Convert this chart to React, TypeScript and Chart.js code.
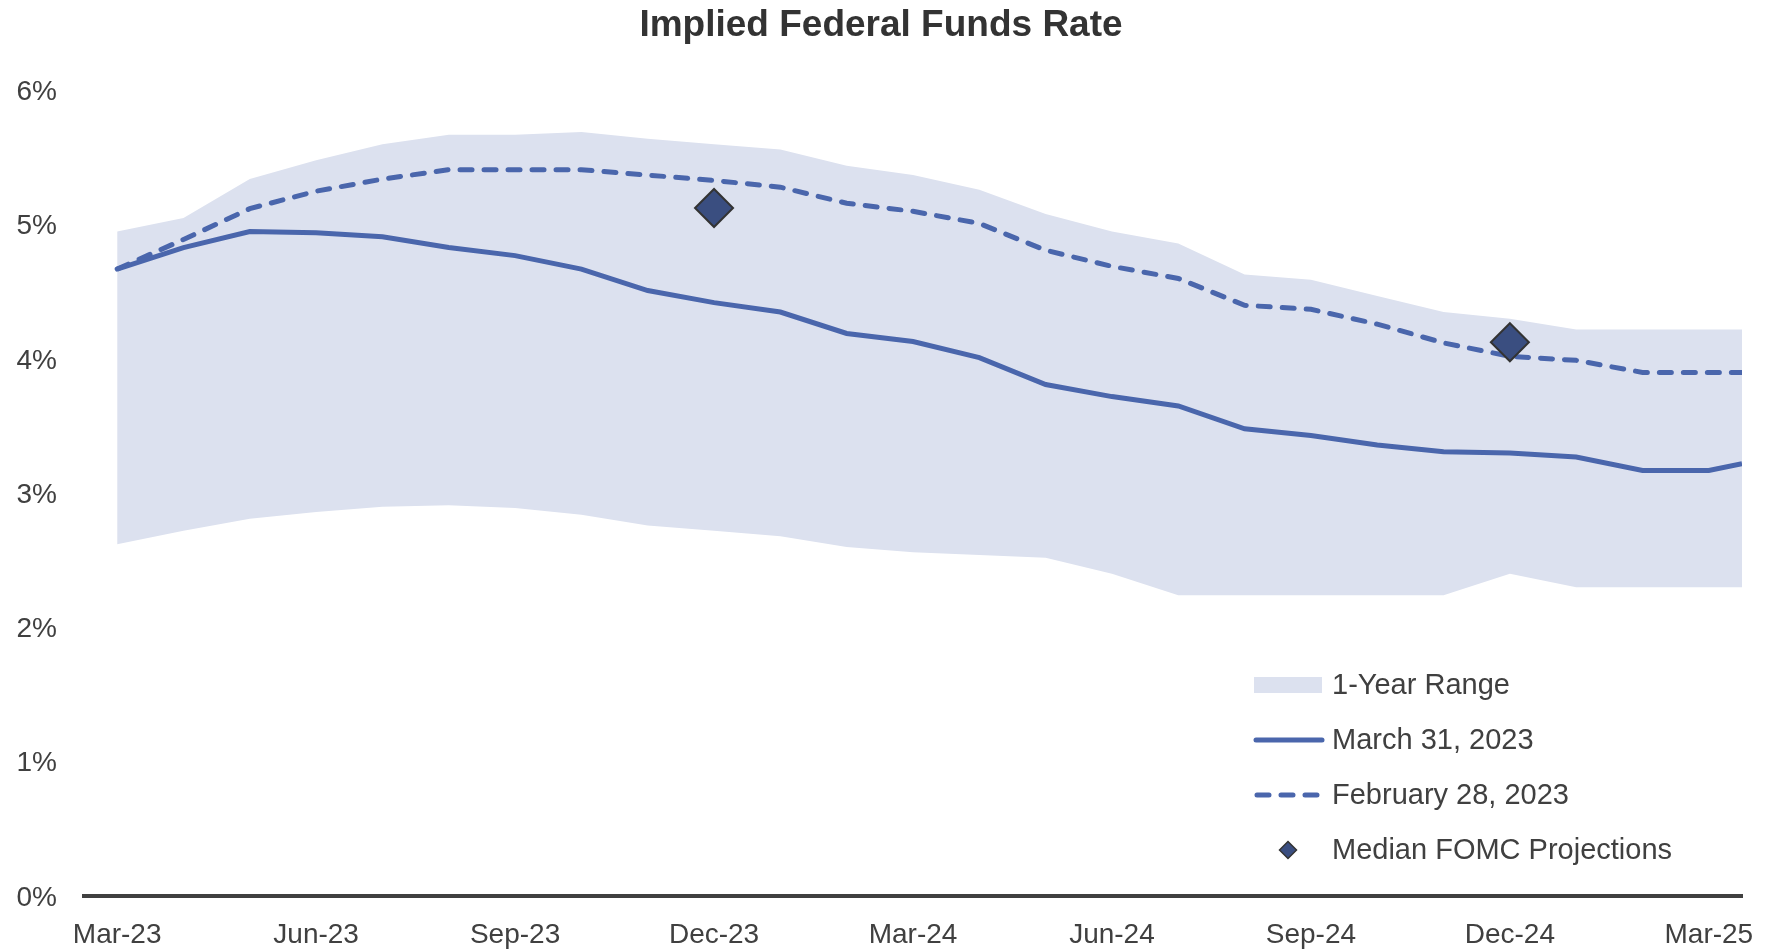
import React, { useEffect, useRef } from "react";
import { Chart, registerables } from "chart.js";

Chart.register(...registerables);

// x positions in months after Mar-23
const monthOffsets = [0, 1, 2, 3, 4, 5, 6, 7, 8, 9, 10, 11, 12, 13, 14, 15, 16, 17, 18, 19, 20, 21, 22, 23, 24, 24.5];
const tickPositions = [0, 3, 6, 9, 12, 15, 18, 21, 24];
const tickLabels = ["Mar-23", "Jun-23", "Sep-23", "Dec-23", "Mar-24", "Jun-24", "Sep-24", "Dec-24", "Mar-25"];
const yTicks = [0, 1, 2, 3, 4, 5, 6];

const march31 = [4.67, 4.83, 4.95, 4.94, 4.91, 4.83, 4.77, 4.67, 4.51, 4.42, 4.35, 4.19, 4.13, 4.01, 3.81, 3.72, 3.65, 3.48, 3.43, 3.36, 3.31, 3.30, 3.27, 3.17, 3.17, 3.22];
const feb28 = [4.67, 4.89, 5.12, 5.25, 5.34, 5.41, 5.41, 5.41, 5.37, 5.33, 5.28, 5.16, 5.10, 5.01, 4.81, 4.69, 4.60, 4.40, 4.37, 4.26, 4.12, 4.02, 3.99, 3.90, 3.90, 3.90];
const rangeHigh = [4.95, 5.05, 5.34, 5.48, 5.60, 5.67, 5.67, 5.69, 5.64, 5.60, 5.56, 5.44, 5.37, 5.26, 5.08, 4.95, 4.86, 4.63, 4.59, 4.47, 4.35, 4.30, 4.22, 4.22, 4.22, 4.22];
const rangeLow = [2.62, 2.72, 2.81, 2.86, 2.90, 2.91, 2.89, 2.84, 2.76, 2.72, 2.68, 2.60, 2.56, 2.54, 2.52, 2.40, 2.24, 2.24, 2.24, 2.24, 2.24, 2.40, 2.30, 2.30, 2.30, 2.30];
const fomcX = [9, 21];
const fomcY = [5.125, 4.125];

const TITLE = "Implied Federal Funds Rate";
const LINE = "#4A66AC";
const FILL = "#DCE1EF";
const DIAMOND = "#3A4E80";
const TEXT = "#404040";
const FONT = "'Liberation Sans', Arial, sans-serif";

const titlePlugin = {
  id: "customTitle",
  afterDraw(chart: any) {
    const ctx = chart.ctx;
    ctx.save();
    ctx.font = `bold 37px ${FONT}`;
    ctx.fillStyle = "#333333";
    ctx.textAlign = "center";
    ctx.textBaseline = "middle";
    ctx.fillText(TITLE, 881, 26);
    ctx.restore();
  },
};

const legendPlugin = {
  id: "customLegend",
  afterDraw(chart: any) {
    const ctx = chart.ctx;
    const ds = chart.data.datasets;
    const swX1 = 1254;
    const swX2 = 1322;
    const textX = 1332;
    const rows = [685, 740, 795, 850];
    ctx.save();
    ctx.font = `29px ${FONT}`;
    ctx.fillStyle = TEXT;
    ctx.textBaseline = "middle";
    ctx.textAlign = "left";
    const items = [ds[3].label, ds[1].label, ds[2].label, ds[0].label];
    items.forEach((t: string, i: number) => ctx.fillText(t, textX, rows[i] + 1));
    // range swatch
    ctx.fillStyle = FILL;
    ctx.fillRect(swX1, rows[0] - 8, swX2 - swX1, 16);
    // solid
    ctx.strokeStyle = LINE;
    ctx.lineWidth = 5;
    ctx.lineCap = "round";
    ctx.beginPath();
    ctx.moveTo(swX1 + 2, rows[1]);
    ctx.lineTo(swX2, rows[1]);
    ctx.stroke();
    // dashed
    ctx.setLineDash([12, 12]);
    ctx.beginPath();
    ctx.moveTo(swX1 + 3, rows[2]);
    ctx.lineTo(swX2, rows[2]);
    ctx.stroke();
    ctx.setLineDash([]);
    // diamond
    const cx = 1288;
    const cy = rows[3];
    const r = 8.5;
    ctx.beginPath();
    ctx.moveTo(cx - r, cy);
    ctx.lineTo(cx, cy - r);
    ctx.lineTo(cx + r, cy);
    ctx.lineTo(cx, cy + r);
    ctx.closePath();
    ctx.fillStyle = DIAMOND;
    ctx.fill();
    ctx.strokeStyle = "#333333";
    ctx.lineWidth = 1.5;
    ctx.stroke();
    ctx.restore();
  },
};

export default function App() {
  const ref = useRef<HTMLCanvasElement | null>(null);

  useEffect(() => {
    if (!ref.current) return;
    Chart.defaults.font.family = FONT;
    const pts = (vals: number[]) => vals.map((v, i) => ({ x: monthOffsets[i], y: v }));
    const chart = new Chart(ref.current, {
      type: "line",
      data: {
        datasets: [
          {
            label: "Median FOMC Projections",
            data: fomcX.map((x, i) => ({ x, y: fomcY[i] })),
            showLine: false,
            pointStyle: "rectRot",
            pointRadius: 19,
            pointBackgroundColor: DIAMOND,
            pointBorderColor: "#333333",
            pointBorderWidth: 2,
          } as any,
          {
            label: "March 31, 2023",
            data: pts(march31),
            borderColor: LINE,
            borderWidth: 5,
            pointRadius: 0,
            tension: 0,
            fill: false,
          },
          {
            label: "February 28, 2023",
            data: pts(feb28),
            borderColor: LINE,
            borderWidth: 5,
            borderDash: [12, 12],
            borderCapStyle: "round",
            pointRadius: 0,
            tension: 0,
            fill: false,
          },
          {
            label: "1-Year Range",
            data: pts(rangeHigh),
            borderWidth: 0,
            borderColor: "rgba(0,0,0,0)",
            backgroundColor: FILL,
            pointRadius: 0,
            tension: 0,
            fill: 4,
          },
          {
            label: "range low",
            data: pts(rangeLow),
            borderWidth: 0,
            borderColor: "rgba(0,0,0,0)",
            pointRadius: 0,
            tension: 0,
            fill: false,
          },
        ],
      },
      options: {
        animation: false,
        responsive: false,
        devicePixelRatio: 1,
        events: [],
        layout: { padding: { left: 0, right: 34, top: 90.5, bottom: 0 } },
        plugins: {
          legend: { display: false },
          tooltip: { enabled: false },
          title: { display: false },
        },
        scales: {
          x: {
            type: "linear",
            min: -0.5,
            max: 24.5,
            grid: { display: false, drawTicks: false },
            border: { display: true, color: "#404040", width: 4 },
            afterBuildTicks: (s: any) => {
              s.ticks = tickPositions.map((v) => ({ value: v }));
            },
            afterFit: (s: any) => {
              s.height = 54;
            },
            ticks: {
              autoSkip: false,
              maxRotation: 0,
              padding: 22,
              color: TEXT,
              font: { size: 28, family: FONT },
              callback: (v: any) => {
                const i = tickPositions.indexOf(Number(v));
                return i >= 0 ? tickLabels[i] : "";
              },
            },
          },
          y: {
            type: "linear",
            min: 0,
            max: 6,
            grid: { display: false, drawTicks: false },
            border: { display: false },
            afterBuildTicks: (s: any) => {
              s.ticks = yTicks.map((v) => ({ value: v }));
            },
            afterFit: (s: any) => {
              s.width = 84;
            },
            ticks: {
              padding: 27,
              labelOffset: 2,
              color: TEXT,
              font: { size: 28, family: FONT },
              callback: (v: any) => `${v}%`,
            },
          },
        },
      },
      plugins: [titlePlugin, legendPlugin],
    });
    return () => chart.destroy();
  }, []);

  return (
    <canvas
      ref={ref}
      width={1776}
      height={950}
      style={{ position: "fixed", left: 0, top: 0, width: 1776, height: 950, display: "block", background: "#ffffff" }}
    />
  );
}
